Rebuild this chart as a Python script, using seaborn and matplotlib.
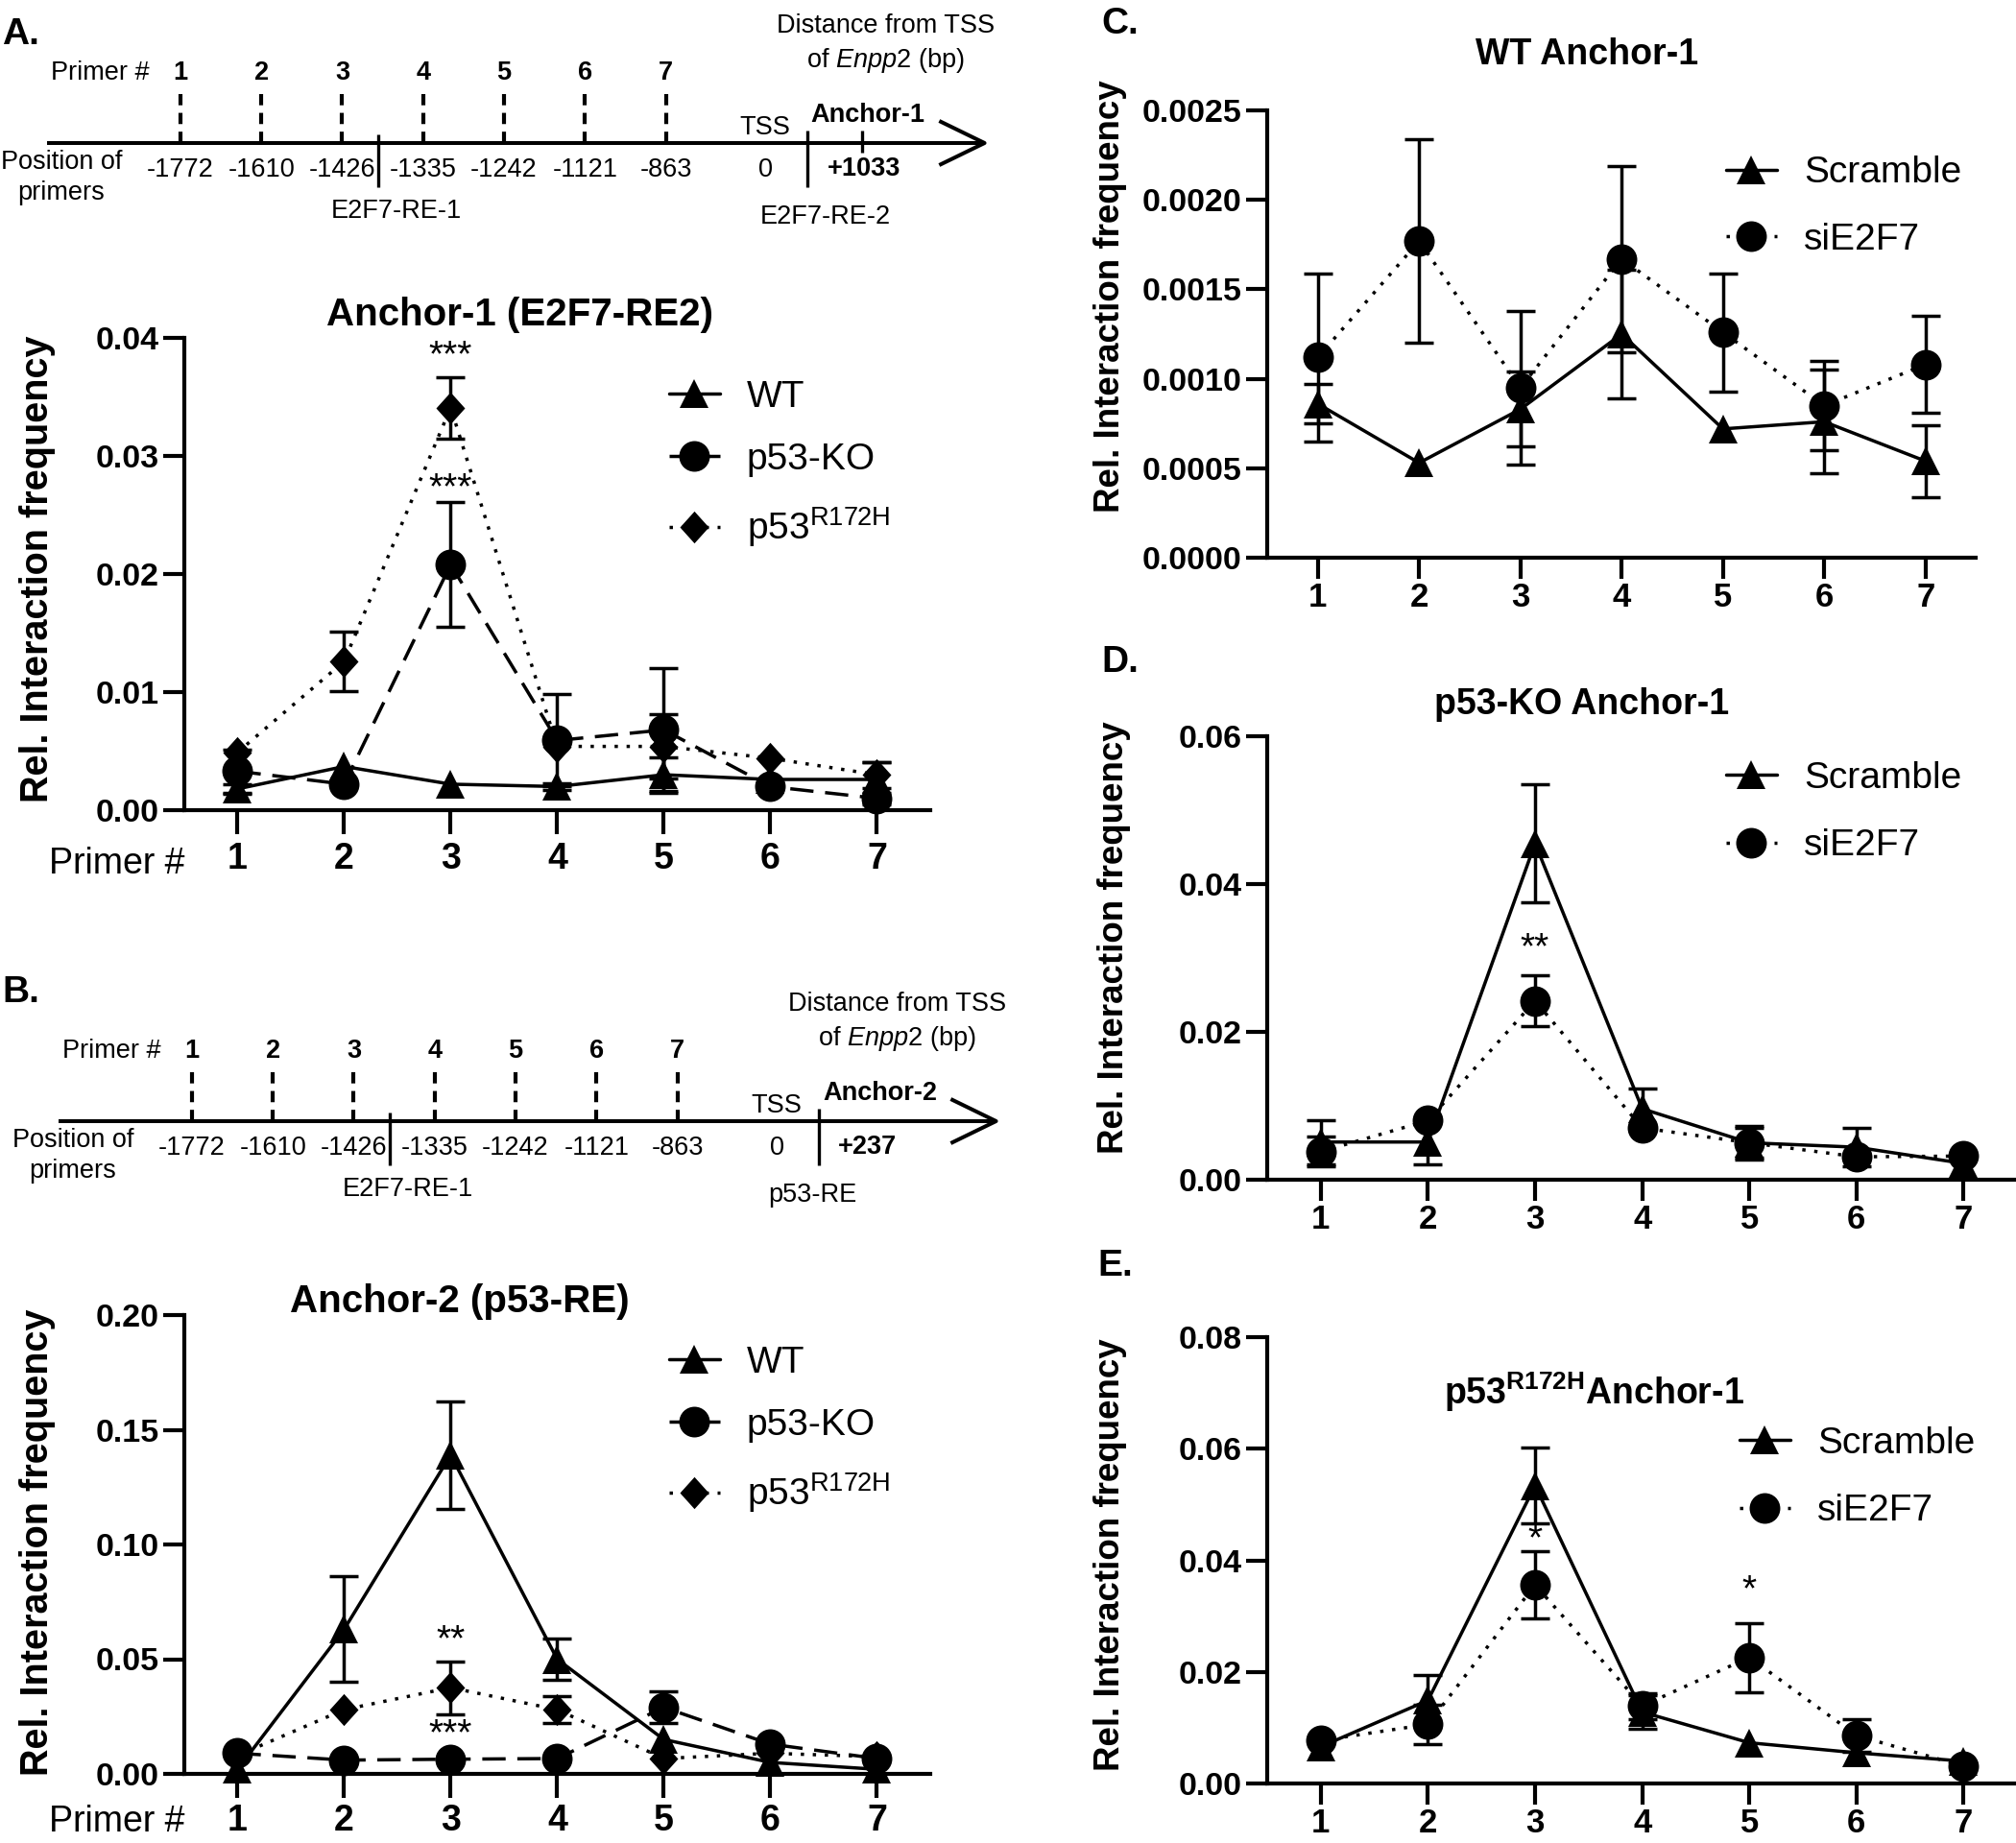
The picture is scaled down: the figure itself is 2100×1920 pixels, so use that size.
# plot.py
# 3C-qPCR interaction frequency at the Enpp2 promoter: primer maps (A, B)
# and relative interaction frequency per primer for each anchor (A-E).

import numpy as np
import matplotlib
matplotlib.use('Agg')
import matplotlib.pyplot as plt
import seaborn as sns
from matplotlib.path import Path

primers = [1, 2, 3, 4, 5, 6, 7]
primer_pos = ['-1772', '-1610', '-1426', '-1335', '-1242', '-1121', '-863']

# A: Anchor-1 (E2F7-RE2)
wt_a = [0.0018, 0.0037, 0.0022, 0.0020, 0.0030, 0.0026, 0.0026]
wt_a_err = [0.0004, 0, 0, 0.0003, 0.0015, 0, 0.0015]
ko_a = [0.0033, 0.0022, 0.0208, 0.0059, 0.0068, 0.0020, 0.0010]
ko_a_err = [0.0018, 0, 0.0053, 0.0039, 0.0052, 0, 0.0005]
mut_a = [0.0049, 0.0126, 0.0341, 0.0054, 0.0054, 0.0044, 0.0030]
mut_a_err = [0, 0.0025, 0.0026, 0, 0.0027, 0, 0.0011]

# B: Anchor-2 (p53-RE)
wt_b = [0.002, 0.063, 0.139, 0.050, 0.015, 0.005, 0.002]
wt_b_err = [0, 0.023, 0.0235, 0.009, 0, 0, 0]
ko_b = [0.009, 0.006, 0.0064, 0.0067, 0.029, 0.013, 0.0067]
ko_b_err = [0, 0, 0, 0, 0.007, 0, 0]
mut_b = [0.008, 0.028, 0.0376, 0.028, 0.0067, 0.009, 0.0075]
mut_b_err = [0, 0, 0.0115, 0.006, 0, 0, 0]

# C: WT Anchor-1
scr_c = [0.00086, 0.00053, 0.00083, 0.00125, 0.00072, 0.00076, 0.00054]
scr_c_err = [0.00011, 0, 0.00021, 0.00036, 0, 0.00029, 0.0002]
si_c = [0.00112, 0.00177, 0.00095, 0.00167, 0.00126, 0.00085, 0.00108]
si_c_err = [0.00047, 0.00057, 0.00043, 0.00052, 0.00033, 0.00025, 0.00027]

# D: p53-KO Anchor-1
scr_d = [0.0051, 0.0051, 0.0455, 0.0096, 0.0050, 0.0044, 0.0022]
scr_d_err = [0.003, 0.003, 0.008, 0.0027, 0.002, 0.0026, 0]
si_d = [0.0038, 0.0080, 0.0242, 0.0070, 0.0050, 0.0031, 0.0032]
si_d_err = [0.002, 0, 0.0034, 0, 0.0023, 0, 0]

# E: p53R172H Anchor-1
scr_e = [0.0066, 0.0149, 0.0534, 0.0128, 0.0073, 0.0055, 0.0040]
scr_e_err = [0, 0.0045, 0.0068, 0.003, 0, 0, 0]
si_e = [0.0077, 0.0106, 0.0356, 0.0139, 0.0226, 0.0086, 0.0031]
si_e_err = [0, 0.0035, 0.006, 0.0023, 0.0062, 0.003, 0]

MUT = 'p53$^{\\mathregular{R172H}}$'

sns.set_theme(style='ticks')
plt.rcParams['font.family'] = ['Liberation Sans', 'DejaVu Sans']
plt.rcParams['mathtext.fontset'] = 'custom'
plt.rcParams['mathtext.rm'] = 'Liberation Sans'
plt.rcParams['mathtext.it'] = 'Liberation Sans:italic'
plt.rcParams['mathtext.bf'] = 'Liberation Sans:bold'
plt.rcParams['text.color'] = 'black'

DIAMOND = Path([(0, 1), (0.9, 0), (0, -1), (-0.9, 0), (0, 1)],
               [Path.MOVETO, Path.LINETO, Path.LINETO, Path.LINETO, Path.CLOSEPOLY])
SOLID = '-'
DASHED = (0, (7, 3.5))
DOTTED = (0, (1, 2.6))
MSIZE = {'^': 22, 'o': 23}
MAP_FS = 19.5

W, H = 2100, 1920
fig = plt.figure(figsize=(W / 100, H / 100), dpi=100)


def fx(px):
    return px / W


def fy(py):
    return 1 - py / H


def draw_map(rect, anchor, anchor_val, anchor_x, val_x, re2, re2_x, tick):
    ax = fig.add_axes(rect)
    ax.set_xlim(-1.23, 11.23)
    ax.set_ylim(260, 0)
    ax.axis('off')
    kw = dict(color='black', solid_capstyle='butt', clip_on=False)
    ax.plot([-0.65, 10.94], [149, 149], lw=2.9, **kw)
    ax.plot([10.38, 10.94, 10.38], [126, 149, 172], lw=2.9, **kw)
    ax.text(0.62, 76, 'Primer #', ha='right', va='center', fontsize=MAP_FS)
    for p, lab in zip(primers, primer_pos):
        ax.text(p, 76, str(p), ha='center', va='center', fontsize=MAP_FS, fontweight='bold')
        ax.plot([p, p], [98, 148], lw=3, ls=(0, (2.8, 1.9)), **kw)
        ax.text(p, 177, lab, ha='center', va='center', fontsize=MAP_FS)
    ax.text(-0.47, 185, 'Position of\nprimers', ha='center', va='center',
            fontsize=MAP_FS, linespacing=1.3)
    ax.plot([3.45, 3.45], [140, 195], lw=2.4, **kw)
    ax.text(3.67, 220, 'E2F7-RE-1', ha='center', va='center', fontsize=MAP_FS)
    ax.text(8.23, 133, 'TSS', ha='center', va='center', fontsize=MAP_FS)
    ax.text(8.23, 177, '0', ha='center', va='center', fontsize=MAP_FS)
    ax.plot([8.75, 8.75], [136, 195], lw=2.4, **kw)
    if tick:
        ax.plot([9.43, 9.43], [136, 159], lw=2.4, **kw)
    ax.text(anchor_x, 120, anchor, ha='center', va='center', fontsize=MAP_FS, fontweight='bold')
    ax.text(val_x, 176, anchor_val, ha='center', va='center', fontsize=MAP_FS, fontweight='bold')
    ax.text(re2_x, 226, re2, ha='center', va='center', fontsize=MAP_FS)
    ax.text(9.72, 46, 'Distance from TSS\nof $\\mathit{Enpp2}$ (bp)', ha='center',
            va='center', fontsize=MAP_FS, linespacing=1.35)


def draw_panel(rect, series, ylim, step, fmt, title, title_xy, title_size,
               ylab_xy, ylab_size, legend_xy, stars, xpad, xsize, xlen, lspace):
    ax = fig.add_axes(rect)
    for vals, errs, label, marker, ls in series:
        sns.lineplot(x=primers, y=vals, ax=ax, color='black', marker=marker,
                     markersize=MSIZE.get(marker, 24), markeredgewidth=0, linestyle=ls,
                     linewidth=2.5, label=label, errorbar=None, clip_on=False, zorder=3)
        e = np.array(errs)
        m = e > 0
        ax.errorbar(np.array(primers)[m], np.array(vals)[m], yerr=e[m], fmt='none',
                    ecolor='black', elinewidth=2.5, capsize=11, capthick=2.5,
                    clip_on=False, zorder=2)
    ax.set_xlim(0.5, 7.5)
    ax.set_ylim(*ylim)
    ax.set_xticks(primers)
    ticks = np.arange(ylim[0], ylim[1] + step / 2, step)
    ax.set_yticks(ticks)
    ax.set_yticklabels([fmt.format(t) for t in ticks])
    ax.set_xlabel('')
    ax.set_ylabel('')
    sns.despine(ax=ax)
    for s in ['left', 'bottom']:
        ax.spines[s].set_linewidth(3.0)
        ax.spines[s].set_color('black')
    ax.tick_params(axis='both', width=3.0, color='black', labelcolor='black')
    ax.tick_params(axis='x', pad=xpad, length=xlen, labelsize=xsize)
    ax.tick_params(axis='y', pad=3, length=16, labelsize=24.5)
    for lab in ax.get_xticklabels() + ax.get_yticklabels():
        lab.set_fontweight('bold')
    ax.grid(False)
    ax.set_facecolor('none')
    fig.text(fx(title_xy[0]), fy(title_xy[1]), title, ha='center', va='center',
             fontsize=title_size, fontweight='bold')
    fig.text(fx(ylab_xy[0]), fy(ylab_xy[1]), 'Rel. Interaction frequency',
             rotation=90, ha='center', va='center', fontsize=ylab_size, fontweight='bold')
    for sx, sy, s in stars:
        ax.text(sx, sy, s, ha='center', va='center', fontsize=28)
    ax.legend(loc='center left', bbox_to_anchor=(fx(legend_xy[0]), fy(legend_xy[1])),
              bbox_transform=fig.transFigure, frameon=False, fontsize=28,
              handlelength=1.36, handletextpad=0.72, labelspacing=lspace,
              borderpad=0, borderaxespad=0)
    return ax


# A
draw_map([0, fy(260), 0.5, 260 / H], 'Anchor-1', '+1033', 9.49, 9.45,
         'E2F7-RE-2', 8.97, True)
axA = draw_panel([0.0914, 1 - 844 / H, 0.370, (844 - 352) / H],
                 [(wt_a, wt_a_err, 'WT', '^', SOLID),
                  (ko_a, ko_a_err, 'p53-KO', 'o', DASHED),
                  (mut_a, mut_a_err, MUT, DIAMOND, DOTTED)],
                 (0, 0.04), 0.01, '{:.2f}', 'Anchor-1 (E2F7-RE2)', (542, 328), 29,
                 (39, 593), 28.5, (697, 484),
                 [(3, 0.0384, '***'), (3, 0.0272, '***')], 6, 27, 18, 0.76)
axA.text(-0.09, -0.113, 'Primer #', transform=axA.transAxes, ha='center',
         va='center', fontsize=27)

# B
draw_map([fx(12), fy(1019 + 260), 0.5, 260 / H], 'Anchor-2', '+237', 9.51, 9.35,
         'p53-RE', 8.67, False)
axB = draw_panel([0.0914, 1 - 1848 / H, 0.370, (1848 - 1370) / H],
                 [(wt_b, wt_b_err, 'WT', '^', SOLID),
                  (ko_b, ko_b_err, 'p53-KO', 'o', DASHED),
                  (mut_b, mut_b_err, MUT, DIAMOND, DOTTED)],
                 (0, 0.20), 0.05, '{:.2f}', 'Anchor-2 (p53-RE)', (479, 1356), 29,
                 (39, 1607), 28.5, (697, 1490),
                 [(3, 0.058, '**'), (3, 0.017, '***')], 4, 27, 18, 0.76)
axB.text(-0.09, -0.105, 'Primer #', transform=axB.transAxes, ha='center',
         va='center', fontsize=27)

# C
draw_panel([0.6286, 1 - 581 / H, 0.3516, (581 - 115) / H],
           [(scr_c, scr_c_err, 'Scramble', '^', SOLID),
            (si_c, si_c_err, 'siE2F7', 'o', DOTTED)],
           (0, 0.0025), 0.0005, '{:.4f}', 'WT Anchor-1', (1653, 57), 27,
           (1157, 309), 26.5, (1798, 215), [], 2, 25, 16, 0.85)

# D
draw_panel([0.6286, 1 - 1229 / H, 0.372, (1229 - 767) / H],
           [(scr_d, scr_d_err, 'Scramble', '^', SOLID),
            (si_d, si_d_err, 'siE2F7', 'o', DOTTED)],
           (0, 0.06), 0.02, '{:.2f}', 'p53-KO Anchor-1', (1648, 734), 27,
           (1160, 977), 26.5, (1798, 846), [(3, 0.0312, '**')], 2, 25, 16, 0.88)

# E
draw_panel([0.6286, 1 - 1858 / H, 0.372, (1858 - 1393) / H],
           [(scr_e, scr_e_err, 'Scramble', '^', SOLID),
            (si_e, si_e_err, 'siE2F7', 'o', DOTTED)],
           (0, 0.08), 0.02, '{:.2f}', 'p53$^{\\mathbf{R172H}}$Anchor-1', (1660, 1450), 27,
           (1157, 1620), 26.5, (1812, 1539), [(3, 0.0436, '*'), (5, 0.0345, '*')],
           2, 25, 16, 0.9)

for letter, x, y in [('A.', 2, 36), ('B.', 2, 1034), ('C.', 1147, 25),
                     ('D.', 1147, 690), ('E.', 1143, 1319)]:
    fig.text(fx(x), fy(y), letter, ha='left', va='center', fontsize=28,
             fontweight='bold')

fig.savefig('out.png', dpi=100, facecolor='white')
